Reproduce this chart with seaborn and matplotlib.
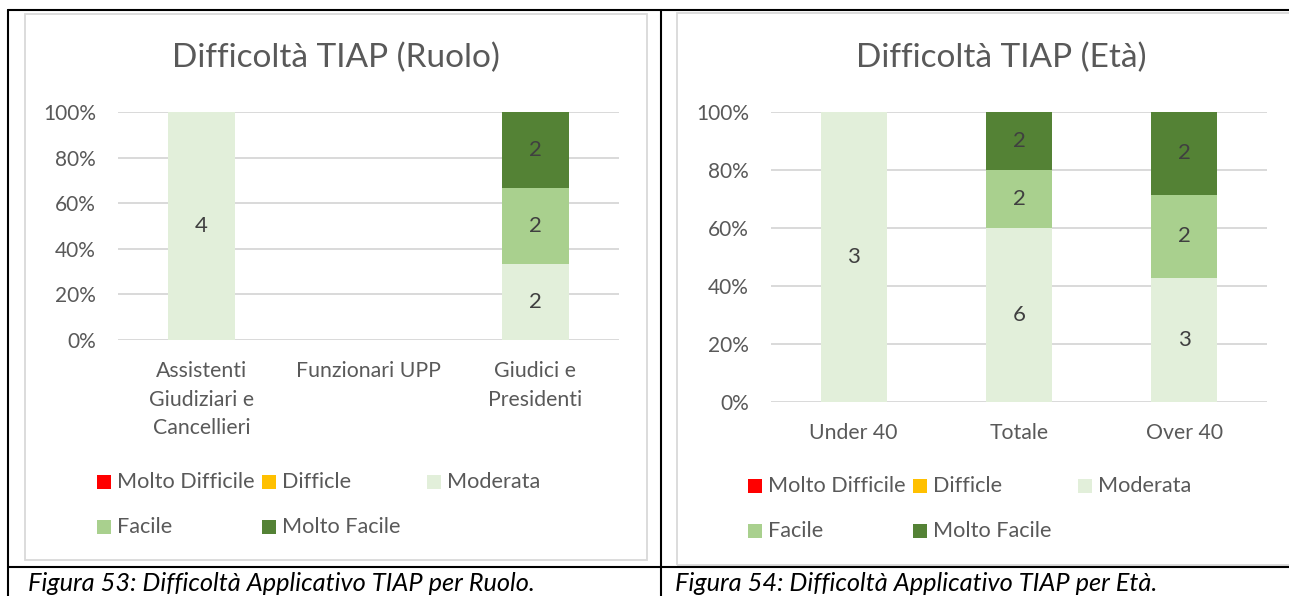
import numpy as np
import pandas as pd
import matplotlib
matplotlib.use("Agg")
import matplotlib.pyplot as plt
from matplotlib.patches import Rectangle
from matplotlib.lines import Line2D
import seaborn as sns

# Data
levels = ["Molto Difficile", "Difficle", "Moderata", "Facile", "Molto Facile"]
level_colors = ["#FF0000", "#FFC000", "#E2EFDA", "#A9D08E", "#548235"]

ruolo_categories = ["Assistenti\nGiudiziari e\nCancellieri", "Funzionari UPP", "Giudici e\nPresidenti"]
ruolo_molto_difficile = [0, 0, 0]
ruolo_difficile = [0, 0, 0]
ruolo_moderata = [4, 0, 2]
ruolo_facile = [0, 0, 2]
ruolo_molto_facile = [0, 0, 2]

eta_categories = ["Under 40", "Totale", "Over 40"]
eta_molto_difficile = [0, 0, 0]
eta_difficile = [0, 0, 0]
eta_moderata = [3, 6, 3]
eta_facile = [0, 2, 2]
eta_molto_facile = [0, 2, 2]

titles = ["Difficoltà TIAP (Ruolo)", "Difficoltà TIAP (Età)"]
captions = ["Figura 53: Difficoltà Applicativo TIAP per Ruolo.",
            "Figura 54: Difficoltà Applicativo TIAP per Età."]

sns.set_theme(style="white")
plt.rcParams['font.family'] = ['Lato', 'DejaVu Sans']

TEXT = "#595959"
LABEL = "#404040"
GRID = "#D9D9D9"

W, H = 1289, 596
fig = plt.figure(figsize=(W / 100, H / 100), dpi=100)
fig.patch.set_facecolor("white")


def fx(px):
    return px / W


def fy(py):
    return 1 - py / H


def stacked_chart(ax, categories, series):
    counts = pd.DataFrame(np.array(series).T, index=categories, columns=levels)
    totals = counts.sum(axis=1).replace(0, np.nan)
    shares = counts.div(totals, axis=0).fillna(0)
    cum = shares.cumsum(axis=1)

    # draw from the top of the stack down so shorter cumulative bars sit in front
    for level, color in reversed(list(zip(levels, level_colors))):
        df = pd.DataFrame({"cat": categories, "val": cum[level].values})
        sns.barplot(data=df, x="cat", y="val", order=categories, color=color,
                    width=0.4, saturation=1, linewidth=0, ax=ax, zorder=3)

    # data labels in the middle of each segment
    for i, cat in enumerate(categories):
        for level in levels:
            n = counts.loc[cat, level]
            if n > 0:
                ymid = cum.loc[cat, level] - shares.loc[cat, level] / 2
                ax.text(i, ymid, f"{n}", ha="center", va="center",
                        fontsize=16, color=LABEL, zorder=4)

    ax.set_ylim(0, 1)
    ax.set_xlim(-0.5, len(categories) - 0.5)
    ax.set_yticks(np.arange(0, 1.01, 0.2))
    ax.set_yticklabels([f"{int(round(v * 100))}%" for v in np.arange(0, 1.01, 0.2)])
    ax.yaxis.grid(True, color=GRID, linewidth=1.4, zorder=0)
    ax.set_axisbelow(True)
    ax.set_xlabel("")
    ax.set_ylabel("")
    for s in ax.spines.values():
        s.set_visible(False)
    ax.tick_params(axis="y", length=0, pad=16, labelsize=15, labelcolor=TEXT)
    ax.tick_params(axis="x", length=0, pad=15, labelsize=15.3, labelcolor=TEXT)
    for t in ax.get_xticklabels():
        t.set_linespacing(1.55)
        t.set_va("top")


def legend_grid(x0, y0):
    # Excel legend: 3 equal columns, filled row by row
    for i, (label, color) in enumerate(zip(levels, level_colors)):
        row, col = divmod(i, 3)
        x = x0 + col * 165
        y = y0 + row * 45
        fig.patches.append(Rectangle((fx(x), fy(y + 7)), fx(14), 14 / H,
                                     transform=fig.transFigure, facecolor=color,
                                     edgecolor="none"))
        fig.text(fx(x + 20), fy(y), label, ha="left", va="center",
                 fontsize=15.6, color=TEXT)


# chart frames (light grey)
fig.patches.append(Rectangle((fx(24.5), fy(560)), fx(647 - 24.5), (560 - 13.5) / H,
                             transform=fig.transFigure, fill=False,
                             edgecolor=GRID, linewidth=1.3))
fig.patches.append(Rectangle((fx(677), fy(565)), fx(1400 - 677), (565 - 12.5) / H,
                             transform=fig.transFigure, fill=False,
                             edgecolor=GRID, linewidth=1.3))

ax1 = fig.add_axes([fx(118), fy(340), fx(501), 228 / H])
stacked_chart(ax1, ruolo_categories,
              [ruolo_molto_difficile, ruolo_difficile, ruolo_moderata,
               ruolo_facile, ruolo_molto_facile])

ax2 = fig.add_axes([fx(771), fy(402), fx(496), 290 / H])
stacked_chart(ax2, eta_categories,
              [eta_molto_difficile, eta_difficile, eta_moderata,
               eta_facile, eta_molto_facile])

fig.text(fx(336), fy(58), titles[0], ha="center", va="center", fontsize=24, color=TEXT)
fig.text(fx(1001), fy(58), titles[1], ha="center", va="center", fontsize=24, color=TEXT)

legend_grid(97, 482)
legend_grid(748, 486)

# table borders of the document
lw = 1.5
for (xa, ya, xb, yb) in [(7.5, 10, W, 10), (7.5, 10, 7.5, H), (661, 10, 661, H), (7.5, 567, W, 567)]:
    fig.lines.append(Line2D([fx(xa), fx(xb)], [fy(ya), fy(yb)], transform=fig.transFigure,
                            color="black", linewidth=lw))

fig.text(fx(28), fy(591), captions[0], ha="left", va="baseline",
         fontsize=18.3, style="italic", color="black")
fig.text(fx(675), fy(591), captions[1], ha="left", va="baseline",
         fontsize=18.3, style="italic", color="black")

fig.savefig("out.png", dpi=100)
